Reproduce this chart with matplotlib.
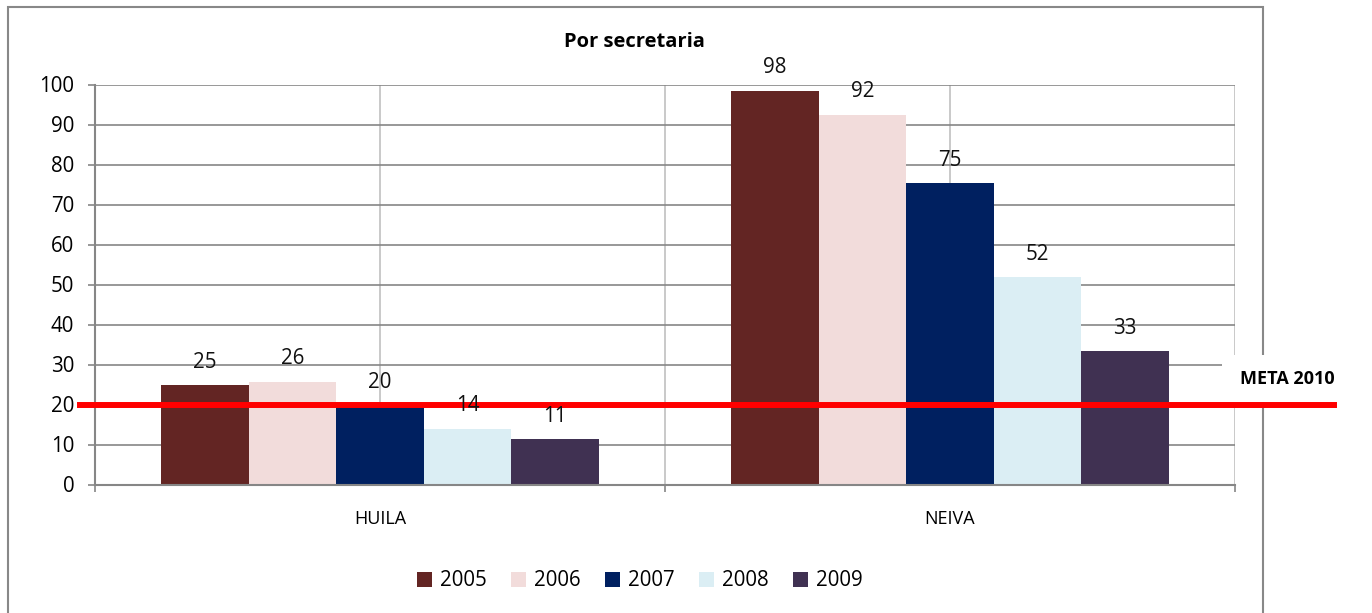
import matplotlib.pyplot as plt
import matplotlib.transforms as mtransforms
from matplotlib.patches import Rectangle
import numpy as np

plt.rcParams['font.family'] = ['Open Sans', 'DejaVu Sans']

regiones = ['HUILA', 'NEIVA']
anios = ['2005', '2006', '2007', '2008', '2009']
valores = {
    '2005': [24.8, 98.4],
    '2006': [25.7, 92.4],
    '2007': [19.7, 75.3],
    '2008': [14.0, 51.8],
    '2009': [11.3, 33.3],
}
colores = ['#632523', '#F2DCDB', '#002060', '#DBEEF4', '#403152']
meta = 20

fig = plt.figure(figsize=(13.72, 6.13), dpi=100)
ax = fig.add_axes([95 / 1372, 1 - 484.5 / 613, 1140 / 1372, 400 / 613])

x = np.arange(len(regiones))
ancho = 0.1537
for i, a in enumerate(anios):
    barras = ax.bar(x + (i - 2) * ancho, valores[a], ancho, color=colores[i],
                    label=a, zorder=2)
    ax.bar_label(barras, labels=['%.0f' % v for v in valores[a]], padding=9,
                 fontsize=14.8, color='#111111', zorder=6)

ax.set_xlim(-0.5, 1.5)
ax.set_ylim(0, 100)
ax.set_yticks(range(0, 101, 10))
ax.set_axisbelow(True)

ax.set_xticks([-0.5, 0.5, 1.5])
ax.set_xticklabels([])
ax.set_xticks(x, minor=True)
ax.set_xticklabels(regiones, minor=True, fontsize=13)
ax.tick_params(axis='x', which='minor', length=0, pad=18)
ax.tick_params(axis='x', which='major', length=5, width=1.2, color='#868686')
ax.tick_params(axis='y', length=5, width=1.2, color='#868686', labelsize=14.8, pad=10)

ax.grid(axis='y', color='#868686', linewidth=1.2)
ax.grid(axis='x', which='both', color='#c0c0c0', linewidth=1.2)

for s in ['top', 'right']:
    ax.spines[s].set_visible(False)
for s in ['left', 'bottom']:
    ax.spines[s].set_color('#868686')
    ax.spines[s].set_linewidth(1.5)

# marco del grafico
ax.add_patch(Rectangle((8 / 1372, -0.1), 1255 / 1372, 1.1 - 7 / 613,
                       transform=fig.transFigure, fill=False, edgecolor='#888888',
                       linewidth=1.5, clip_on=False, zorder=0.6))

# caja blanca para la etiqueta de la meta
ax.add_patch(Rectangle((1222 / 1372, 1 - 402 / 613), 150 / 1372, 47 / 613,
                       transform=fig.transFigure, facecolor='white', edgecolor='none',
                       clip_on=False, zorder=3))

# linea de la meta
tr = mtransforms.blended_transform_factory(fig.transFigure, ax.transData)
ax.plot([80 / 1372, 1334 / 1372], [meta, meta], color='#ff0000', linewidth=4.3,
        transform=tr, clip_on=False, zorder=4)
fig.text(1240 / 1372, 1 - 379 / 613, 'META 2010', fontsize=13, fontweight='bold',
         va='center', ha='left', zorder=5)

fig.text(634 / 1372, 1 - 42 / 613, 'Por secretaria', fontsize=14.5, fontweight='bold',
         ha='center', va='center')

ax.legend(loc='center', bbox_to_anchor=(640 / 1372, 1 - 581 / 613),
          bbox_transform=fig.transFigure, ncol=5, frameon=False, fontsize=14.8,
          handlelength=0.7, handleheight=0.7, handletextpad=0.4, columnspacing=1.2)

fig.savefig('out.png', dpi=100)
